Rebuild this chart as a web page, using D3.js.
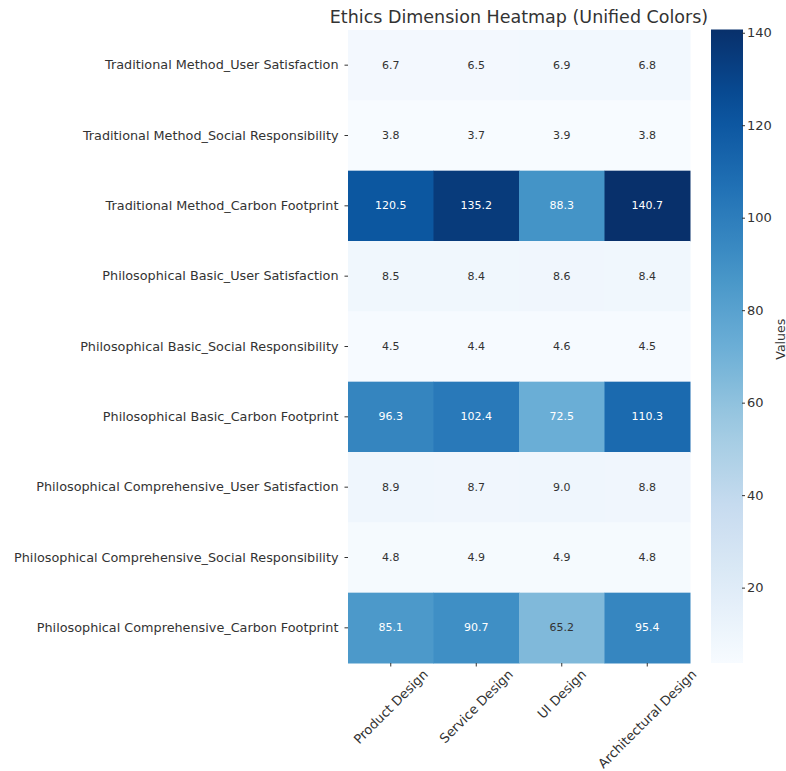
<!DOCTYPE html>
<html>
<head>
<meta charset="utf-8">
<script src="https://cdn.jsdelivr.net/npm/d3@7"></script>
<style>
body { margin: 0; background: #fff; }
text { font-family: "DejaVu Sans", sans-serif; }
</style>
</head>
<body>
<svg id="chart" width="786" height="771"></svg>
<script>
const rowLabels = [
  "Traditional Method_User Satisfaction",
  "Traditional Method_Social Responsibility",
  "Traditional Method_Carbon Footprint",
  "Philosophical Basic_User Satisfaction",
  "Philosophical Basic_Social Responsibility",
  "Philosophical Basic_Carbon Footprint",
  "Philosophical Comprehensive_User Satisfaction",
  "Philosophical Comprehensive_Social Responsibility",
  "Philosophical Comprehensive_Carbon Footprint"
];
const colLabels = ["Product Design", "Service Design", "UI Design", "Architectural Design"];
const productDesign = [6.7, 3.8, 120.5, 8.5, 4.5, 96.3, 8.9, 4.8, 85.1];
const serviceDesign = [6.5, 3.7, 135.2, 8.4, 4.4, 102.4, 8.7, 4.9, 90.7];
const uiDesign = [6.9, 3.9, 88.3, 8.6, 4.6, 72.5, 9.0, 4.9, 65.2];
const architecturalDesign = [6.8, 3.8, 140.7, 8.4, 4.5, 110.3, 8.8, 4.8, 95.4];
const colorbarTicks = [20, 40, 60, 80, 100, 120, 140];
const titleText = "Ethics Dimension Heatmap (Unified Colors)";
const colorbarLabel = "Values";

const columns = [productDesign, serviceDesign, uiDesign, architecturalDesign];
const cells = [];
rowLabels.forEach((r, i) => colLabels.forEach((c, j) => cells.push({row: r, col: c, value: columns[j][i]})));
const allVals = cells.map(d => d.value);
const vmin = d3.min(allVals), vmax = d3.max(allVals);

const blues = ["#f7fbff","#deebf7","#c6dbef","#9ecae1","#6baed6","#4292c6","#2171b5","#08519c","#08306b"];
const color = d3.scaleLinear()
  .domain(blues.map((_, i) => vmin + (vmax - vmin) * i / (blues.length - 1)))
  .range(blues).interpolate(d3.interpolateRgb).clamp(true);

const textColor = "#333333";
const svg = d3.select("#chart");
const hmLeft = 348, hmRight = 690, hmTop = 30, hmBottom = 663;
const x = d3.scaleBand().domain(colLabels).range([hmLeft, hmRight]);
const y = d3.scaleBand().domain(rowLabels).range([hmTop, hmBottom]);

svg.append("g").selectAll("rect").data(cells).join("rect")
  .attr("x", d => x(d.col)).attr("y", d => y(d.row))
  .attr("width", x.bandwidth() + 0.5).attr("height", y.bandwidth() + 0.5)
  .attr("fill", d => color(d.value));

function lum(c) {
  const rgb = d3.rgb(c);
  const f = v => { v /= 255; return v <= 0.03928 ? v / 12.92 : Math.pow((v + 0.055) / 1.055, 2.4); };
  return 0.2126 * f(rgb.r) + 0.7152 * f(rgb.g) + 0.0722 * f(rgb.b);
}

svg.append("g").selectAll("text").data(cells).join("text")
  .attr("x", d => x(d.col) + x.bandwidth() / 2)
  .attr("y", d => y(d.row) + y.bandwidth() / 2)
  .attr("text-anchor", "middle").attr("dominant-baseline", "central")
  .attr("font-size", 11)
  .attr("fill", d => lum(color(d.value)) > 0.408 ? textColor : "#ffffff")
  .text(d => d.value.toFixed(1));

// y axis
const yAxis = svg.append("g").attr("transform", `translate(${hmLeft},0)`)
  .call(d3.axisLeft(y).tickSize(3.5).tickPadding(6));
yAxis.select(".domain").remove();
yAxis.selectAll("text").attr("font-size", 12.8).attr("fill", textColor).style("font-family", "DejaVu Sans");
yAxis.selectAll("line").attr("stroke", textColor);

// x axis
const xAxis = svg.append("g").attr("transform", `translate(0,${hmBottom})`)
  .call(d3.axisBottom(x).tickSize(3.5));
xAxis.select(".domain").remove();
xAxis.selectAll("line").attr("stroke", textColor);
xAxis.selectAll("text")
  .attr("font-size", 13).attr("fill", textColor).style("font-family", "DejaVu Sans")
  .attr("text-anchor", "middle").attr("dominant-baseline", "central")
  .attr("dy", null)
  .each(function() {
    const t = d3.select(this);
    const w = this.getComputedTextLength();
    const h = 13;
    const half = (w + h) * Math.SQRT1_2 / 2;
    t.attr("y", 0).attr("transform", `translate(0,${3.5 + 1 + half}) rotate(-45)`);
  });

// colorbar
const cbX = 711, cbW = 32, cbTop = 29.5, cbBottom = 663;
const cy = d3.scaleLinear().domain([vmin, vmax]).range([cbBottom, cbTop]);
const defs = svg.append("defs");
const grad = defs.append("linearGradient").attr("id", "cbgrad")
  .attr("x1", 0).attr("y1", 1).attr("x2", 0).attr("y2", 0);
d3.range(0, 1.0001, 0.05).forEach(t => {
  grad.append("stop").attr("offset", t).attr("stop-color", color(vmin + t * (vmax - vmin)));
});
svg.append("rect").attr("x", cbX).attr("y", cbTop).attr("width", cbW).attr("height", cbBottom - cbTop)
  .attr("fill", "url(#cbgrad)");
const cAxis = svg.append("g").attr("transform", `translate(${cbX + cbW - 1},0)`)
  .call(d3.axisRight(cy).tickValues(colorbarTicks).tickSize(3).tickPadding(2));
cAxis.select(".domain").remove();
cAxis.selectAll("text").attr("font-size", 13).attr("fill", textColor).style("font-family", "DejaVu Sans");
cAxis.selectAll("line").attr("stroke", textColor);

svg.append("text")
  .attr("transform", `translate(780,${(cbTop + cbBottom) / 2 - 7}) rotate(-90)`)
  .attr("text-anchor", "middle").attr("dominant-baseline", "central")
  .attr("font-size", 12.5).attr("fill", textColor).text(colorbarLabel);

svg.append("text")
  .attr("x", 519).attr("y", 17)
  .attr("text-anchor", "middle").attr("dominant-baseline", "central")
  .attr("font-size", 17.5).attr("fill", textColor).text(titleText);
</script>
</body>
</html>
